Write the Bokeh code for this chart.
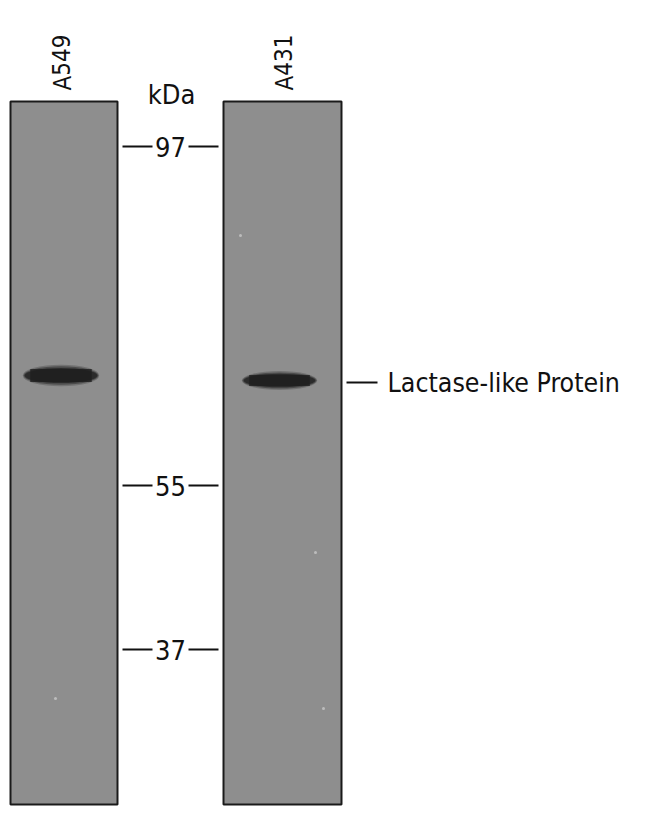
from bokeh.plotting import figure
from bokeh.models import Range1d, ColumnDataSource
from bokeh.core.properties import value
from bokeh.embed import file_html
from bokeh.resources import INLINE

# western blot: two lanes, marker ladder in between
lanes = ["A549", "A431"]
lane_left = [10, 223]
lane_right = [117, 341]
lane_top = 101
lane_bottom = 804

marker_kda = ["97", "55", "37"]
marker_pos = [146, 485, 649]          # migration (px from top)

band_name = "Lactase-like Protein"
band_pos = [375, 380]                 # band migration per lane
band_width = [75, 74]
band_height = [16, 14]

specks_x = [240, 315, 323, 55]
specks_y = [235, 552, 708, 698]

FONT = value("'Liberation Sans Narrow', 'DejaVu Sans Condensed', 'Roboto Condensed', sans-serif")

p = figure(width=642, height=806, x_range=Range1d(0, 642), y_range=Range1d(806, 0),
           output_backend="svg", toolbar_location=None, min_border=0)
p.axis.visible = False
p.grid.visible = False
p.outline_line_color = None
p.background_fill_color = "white"

# lanes
p.quad(left=lane_left, right=lane_right, top=[lane_top] * 2, bottom=[lane_bottom] * 2,
       fill_color="#8e8e8e", line_color="#1a1a1a", line_width=2)

# bands (soft edges from stacked ellipses + flat core)
cx = [(l + r) / 2 - 3 for l, r in zip(lane_left, lane_right)]
for scale_w, scale_h, alpha in [(1.02, 1.35, 0.25), (1.0, 1.15, 0.45), (0.97, 0.95, 0.7)]:
    p.ellipse(x=cx, y=band_pos, width=[w * scale_w for w in band_width],
              height=[h * scale_h for h in band_height],
              fill_color="#1e1e1e", fill_alpha=alpha, line_color=None)
p.rect(x=cx, y=band_pos, width=[w * 0.82 for w in band_width],
       height=[h * 0.8 for h in band_height], fill_color="#1e1e1e", fill_alpha=0.8, line_color=None)

p.scatter(x=specks_x, y=specks_y, size=3, fill_color="#c8c8c8", line_color=None, alpha=0.8)

# lane labels
lab = ColumnDataSource(dict(x=[62, 284], y=[90, 90], t=lanes))
p.text(x="x", y="y", text="t", source=lab, angle=1.5708, text_align="left",
       text_baseline="middle", text_font=FONT, text_font_size="24px", text_color="#111111")

p.text(x=[171], y=[94], text=["kDa"], text_align="center", text_baseline="middle",
       text_font=FONT, text_font_size="27px", text_color="#111111")

# ladder
mk = ColumnDataSource(dict(x=[170] * 3, y=marker_pos, t=marker_kda))
p.text(x="x", y="y", text="t", source=mk, text_align="center", text_baseline="middle",
       text_font=FONT, text_font_size="27px", text_color="#111111")
p.segment(x0=[122] * 3, x1=[152] * 3, y0=marker_pos, y1=marker_pos, line_color="#111111", line_width=2)
p.segment(x0=[188] * 3, x1=[218] * 3, y0=marker_pos, y1=marker_pos, line_color="#111111", line_width=2)

# band label
p.segment(x0=[346], x1=[377], y0=[band_pos[1] + 2], y1=[band_pos[1] + 2], line_color="#111111", line_width=2)
p.text(x=[387], y=[band_pos[1] + 2], text=[band_name], text_align="left", text_baseline="middle",
       text_font=FONT, text_font_size="26.5px", text_color="#111111")

open("out.html", "w").write(file_html(p, INLINE))
